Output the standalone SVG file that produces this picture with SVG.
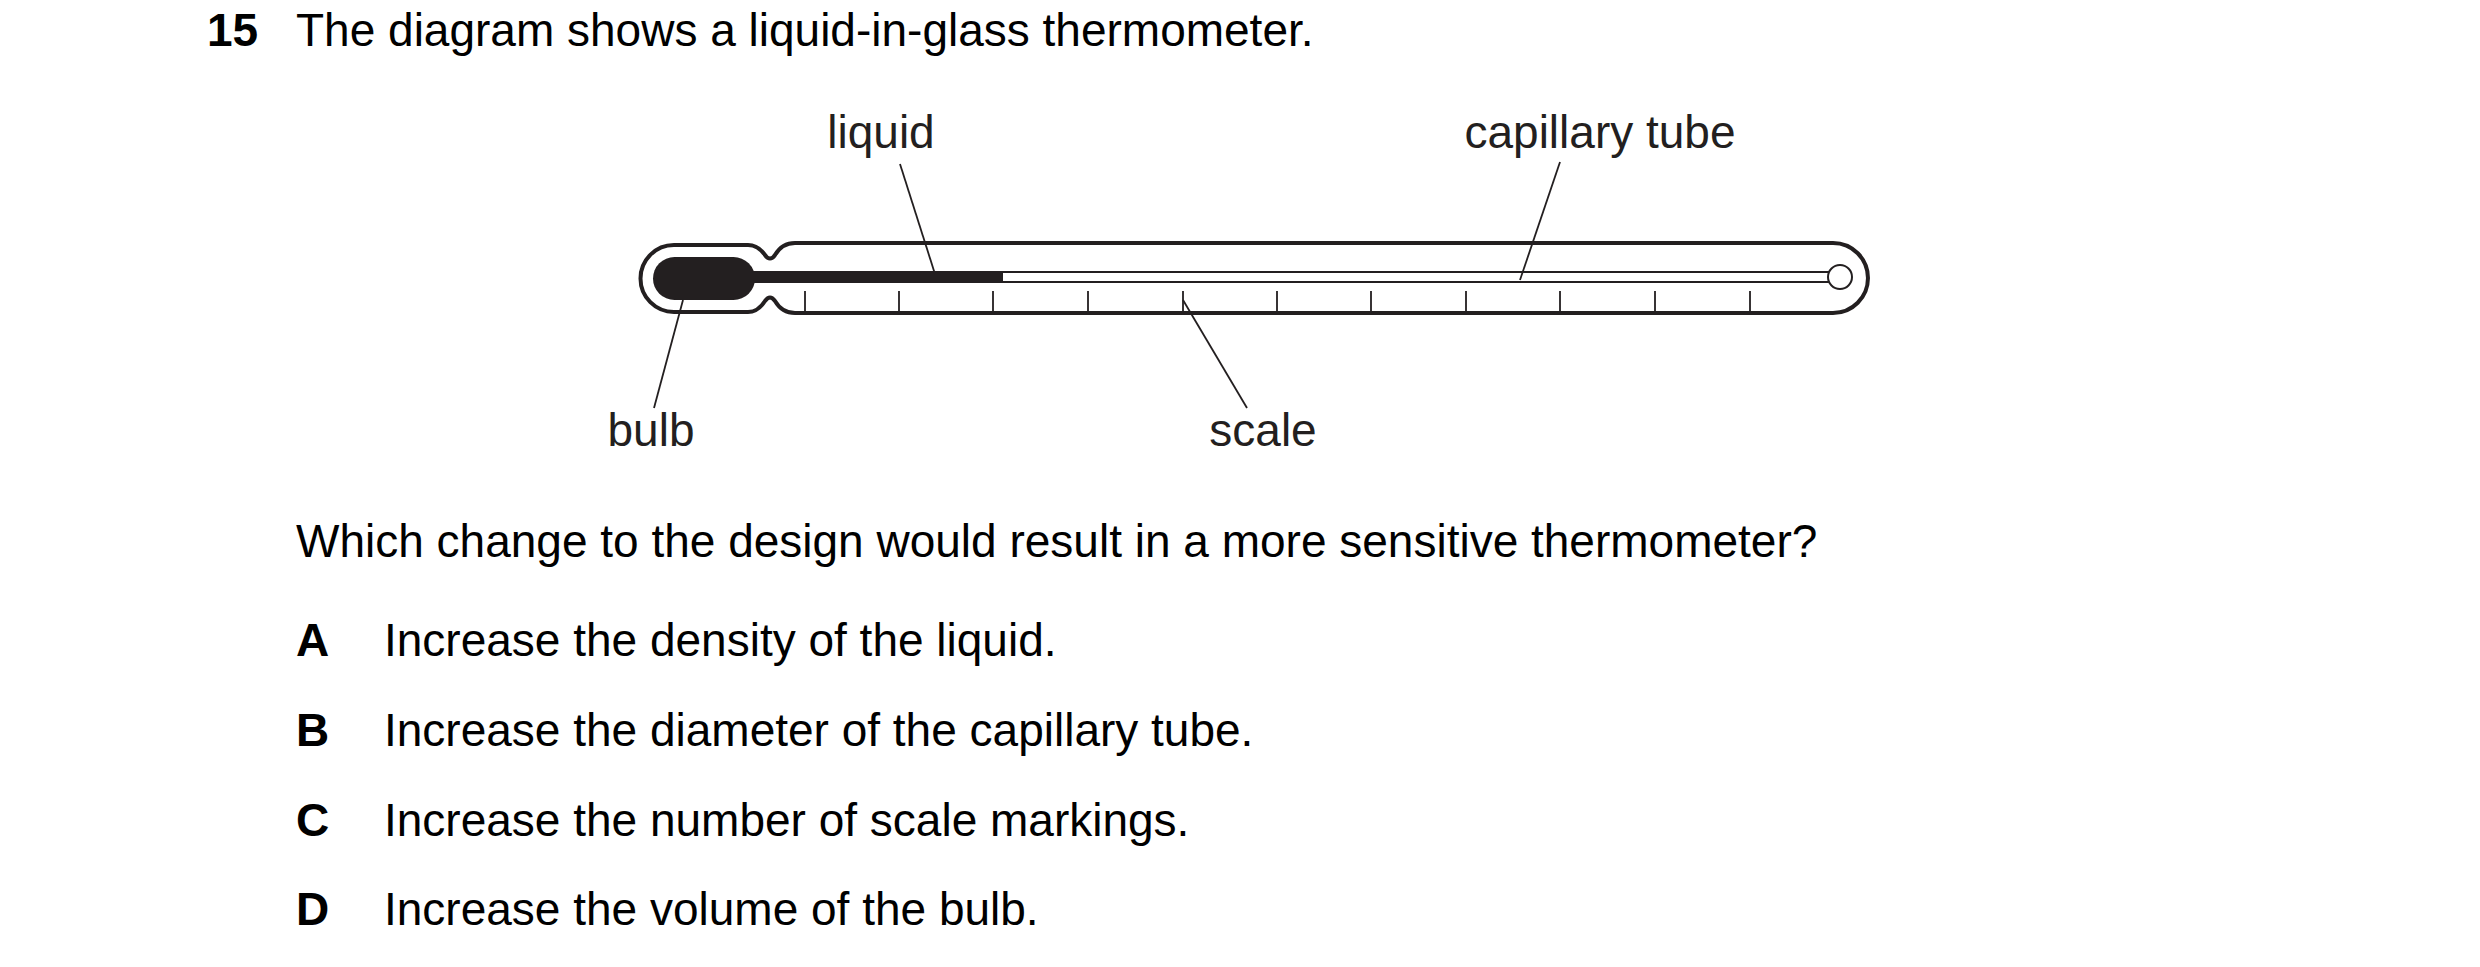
<svg xmlns="http://www.w3.org/2000/svg" width="2480" height="967" viewBox="0 0 2480 967">
<style>
text{font-family:"Liberation Sans",Arial,sans-serif;font-size:46px;fill:#000}
.b{font-weight:bold}
.lbl{fill:#231f20}
.st{fill:none;stroke:#231f20;stroke-width:4}
.ln{fill:none;stroke:#231f20;stroke-width:1.8}
</style>
<rect width="2480" height="967" fill="#fff"/>
<text class="b" x="207" y="46">15</text>
<text x="296" y="46">The diagram shows a liquid-in-glass thermometer.</text>
<g id="thermometer">
<path class="st" d="M674,245 H748 Q758,245 765,255 Q770,262 775,255 Q782,243 795,243 H1833 A35,35 0 0 1 1833,313 H795 Q782,313 775,301 Q770,294 765,301 Q758,312 748,312 H674 A33.5,33.5 0 0 1 674,245 Z"/>
<rect x="653" y="257" width="102" height="43" rx="21.5" fill="#231f20"/>
<path d="M750,272 H1830 M750,282 H1830" class="ln"/>
<rect x="750" y="272.5" width="253" height="9" fill="#231f20"/>
<circle cx="1840" cy="277" r="12" fill="#fff" stroke="#231f20" stroke-width="2"/>
<g class="ln" stroke-width="2">
<path d="M805,291V311M899,291V311M993,291V311M1088,291V311M1183,291V311M1277,291V311M1371,291V311M1466,291V311M1560,291V311M1655,291V311M1750,291V311"/>
</g>
</g>
<g id="connectors">
<path class="ln" d="M900,164 L935,274"/>
<path class="ln" d="M1560,162 L1520,280"/>
<path class="ln" d="M683,300 L654,408"/>
<path class="ln" d="M1183,300 L1247,408"/>
</g>
<g id="labels">
<text class="lbl" x="881" y="148" text-anchor="middle">liquid</text>
<text class="lbl" x="1600" y="148" text-anchor="middle">capillary tube</text>
<text class="lbl" x="651" y="446" text-anchor="middle">bulb</text>
<text class="lbl" x="1263" y="446" text-anchor="middle">scale</text>
</g>
<text x="296" y="557">Which change to the design would result in a more sensitive thermometer?</text>
<text class="b" x="296" y="656">A</text><text x="384" y="656">Increase the density of the liquid.</text>
<text class="b" x="296" y="746">B</text><text x="384" y="746">Increase the diameter of the capillary tube.</text>
<text class="b" x="296" y="836">C</text><text x="384" y="836">Increase the number of scale markings.</text>
<text class="b" x="296" y="925">D</text><text x="384" y="925">Increase the volume of the bulb.</text>
</svg>
